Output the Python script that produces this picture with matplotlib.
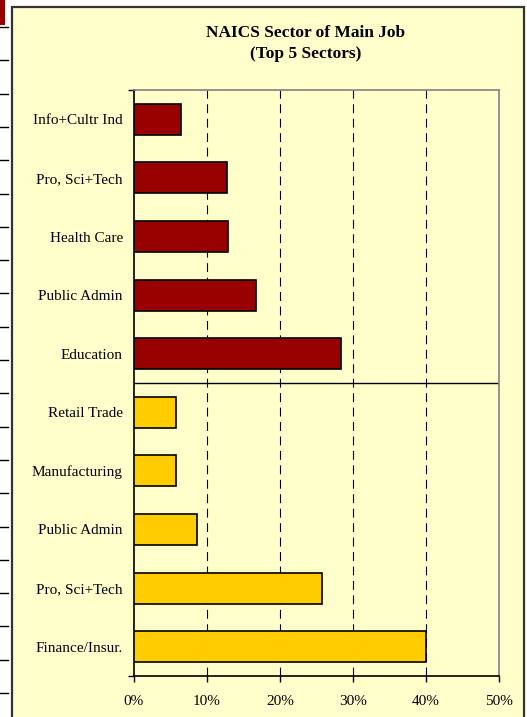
import matplotlib
matplotlib.use("Agg")
import matplotlib.pyplot as plt
from matplotlib.patches import Rectangle
from matplotlib.lines import Line2D

# ---- data ----
categories = ["Info+Cultr Ind", "Pro, Sci+Tech", "Health Care", "Public Admin", "Education",
              "Retail Trade", "Manufacturing", "Public Admin", "Pro, Sci+Tech", "Finance/Insur."]
values = [6.5, 12.7, 12.9, 16.7, 28.3,
          5.75, 5.75, 8.6, 25.75, 40.0]
groups = ["A", "A", "A", "A", "A", "B", "B", "B", "B", "B"]
group_colors = {"A": "#990000", "B": "#FFCC00"}
xticks = [0, 10, 20, 30, 40, 50]
xtick_labels = ["0%", "10%", "20%", "30%", "40%", "50%"]
title = "NAICS Sector of Main Job\n(Top 5 Sectors)"

W, H = 527, 717
fig = plt.figure(figsize=(W / 100, H / 100), dpi=100)
fig.patch.set_facecolor("white")

def fx(px):
    return px / W

def fy(py):
    return 1 - py / H

# left-edge spreadsheet remnants
fig.add_artist(Rectangle((0, fy(25)), fx(5), fy(0) - fy(25), transform=fig.transFigure,
                         facecolor="#990000", edgecolor="none", zorder=-20))
y = 27
while y < H:
    fig.add_artist(Line2D([0, fx(8)], [fy(y), fy(y)], transform=fig.transFigure,
                          color="black", lw=1, zorder=-20))
    y += 33.3

# chart area frame
fig.add_artist(Rectangle((fx(12), fy(730)), fx(524 - 12), fy(7) - fy(730), transform=fig.transFigure,
                         facecolor="#FFFFCC", edgecolor="#333333", lw=1.6, zorder=-10))

serif = ["Liberation Serif", "DejaVu Serif"]

ax = fig.add_axes([fx(134), fy(676), fx(499 - 134), fy(90) - fy(676)])
ax.set_zorder(5)
ax.set_facecolor("#FFFFCC")

n = len(categories)
pos = [i + 0.5 for i in range(n)]
colors = [group_colors[g] for g in groups]
ax.barh(pos, values, height=0.53, color=colors, edgecolor="black", linewidth=1.2, zorder=3)

ax.set_xlim(0, 50)
ax.set_ylim(n, 0)

for xv in xticks[1:-1]:
    ax.axvline(xv, color="black", lw=0.8, linestyle=(0, (8, 5)), zorder=1)
ax.axhline(5, color="black", lw=1.0, zorder=2)

ax.set_xticks(xticks)
ax.set_xticklabels(xtick_labels, family=serif, fontsize=11)
ax.tick_params(axis="x", direction="out", length=4, width=1, pad=10, colors="black")

ax.set_yticks([0, n])
ax.set_yticklabels([])
ax.set_yticks(pos, minor=True)
ax.set_yticklabels(categories, minor=True, family=serif, fontsize=11)
ax.tick_params(axis="y", which="major", direction="out", length=4, width=1)
ax.tick_params(axis="y", which="minor", length=0, pad=8)

for s in ["left", "bottom"]:
    ax.spines[s].set_color("black")
    ax.spines[s].set_linewidth(1.2)
for s in ["top", "right"]:
    ax.spines[s].set_color("#808080")
    ax.spines[s].set_linewidth(1.2)

fig.text(fx(306), fy(43.5), title, ha="center", va="center", family=serif,
         fontweight="bold", fontsize=12.5, linespacing=1.45, zorder=6)

fig.savefig("out.png", dpi=100, facecolor=fig.get_facecolor())
